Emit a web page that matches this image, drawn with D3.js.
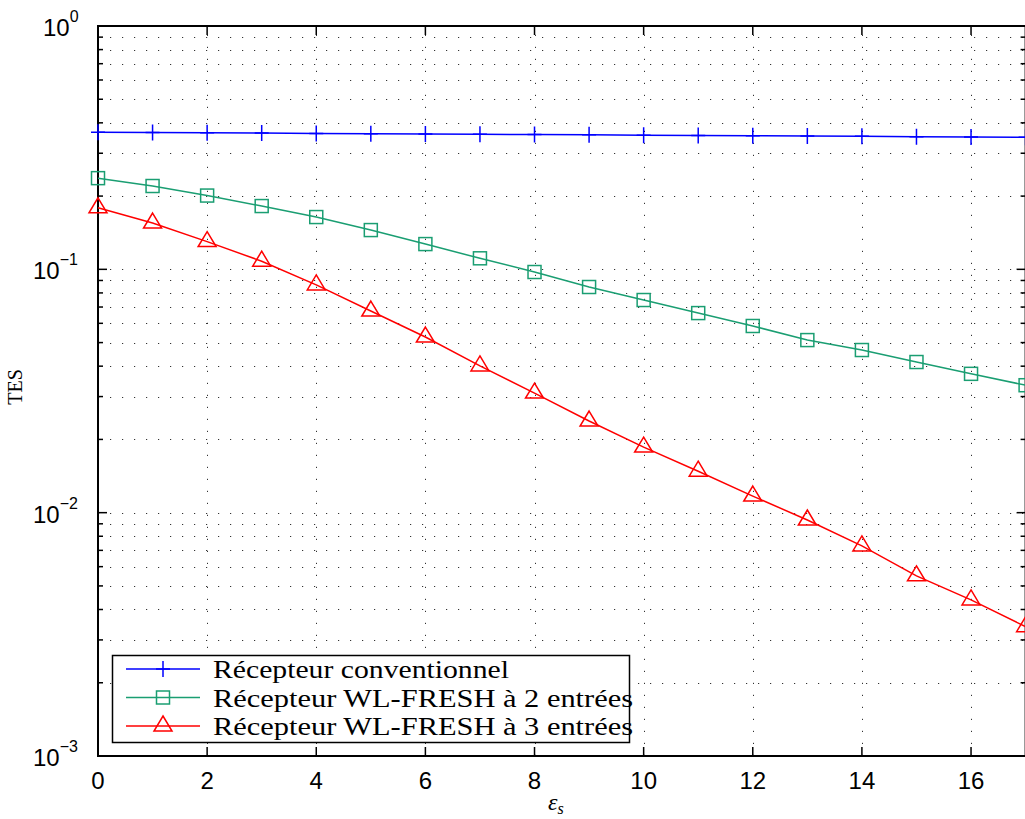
<!DOCTYPE html>
<html lang="en">
<head>
  <meta charset="UTF-8">
  <title>TES vs epsilon_s</title>
  <script src="https://d3js.org/d3.v7.min.js"></script>
  <style>
    body { margin: 0; padding: 0; background: #fff; }
    svg { display: block; }
  </style>
</head>
<body>
  <div id="chart"></div>
  <script>
    const width = 1025, height = 819;
    const margin = { top: 26, left: 98, bottom: 63 };
    const sansFont = "Liberation Sans, Arial, Helvetica, sans-serif";
    const serifFont = "Liberation Serif, Times New Roman, serif";

    // x values (epsilon_s)
    const eps = [0, 1, 2, 3, 4, 5, 6, 7, 8, 9, 10, 11, 12, 13, 14, 15, 16, 17];

    // TES values
    const conventionnel = [0.366, 0.365, 0.364, 0.363, 0.362, 0.361, 0.360, 0.359, 0.358, 0.357,
                           0.356, 0.355, 0.354, 0.353, 0.352, 0.351, 0.350, 0.349];
    const fresh2 = [0.237, 0.220, 0.201, 0.182, 0.164, 0.145, 0.127, 0.111, 0.0975, 0.0846,
                    0.0748, 0.0661, 0.0585, 0.0512, 0.0466, 0.0416, 0.0372, 0.0334];
    const fresh3 = [0.179, 0.155, 0.130, 0.108, 0.0863, 0.0674, 0.0527, 0.0401, 0.0310, 0.0238,
                    0.0186, 0.0148, 0.0117, 0.00933, 0.00730, 0.0055, 0.00438, 0.0034];

    const xTicks = [0, 2, 4, 6, 8, 10, 12, 14, 16];
    const yExps = [0, -1, -2, -3];
    const legendLabels = [
      "Récepteur conventionnel",
      "Récepteur WL-FRESH à 2 entrées",
      "Récepteur WL-FRESH à 3 entrées"
    ];
    const legendWidths = [296, 420, 420];

    const series = [
      { values: conventionnel, color: "#0000ff", marker: "plus" },
      { values: fresh2, color: "#1a9e72", marker: "square" },
      { values: fresh3, color: "#ff0000", marker: "triangle" }
    ];

    const x = d3.scaleLinear().domain([0, 17]).range([margin.left, 1025.6]);
    const y = d3.scaleLog().domain([1e-3, 1]).range([height - margin.bottom, margin.top]);

    const svg = d3.select("#chart").append("svg")
      .attr("width", width)
      .attr("height", height);

    const x0 = x.range()[0], x1 = x.range()[1];
    const y0 = y.range()[0], y1 = y.range()[1];

    // grid
    const grid = svg.append("g").attr("stroke", "#333").attr("stroke-width", 1)
      .attr("stroke-dasharray", "1.2,10.8");
    const minorVals = [];
    for (let e = -3; e < 0; e++) {
      for (let m = 1; m <= 9; m++) minorVals.push(m * Math.pow(10, e));
    }
    grid.selectAll("line.h").data(minorVals.filter(v => v > 1e-3)).join("line")
      .attr("class", "h")
      .attr("x1", x0).attr("x2", x1)
      .attr("y1", d => Math.round(y(d)) + 0.5).attr("y2", d => Math.round(y(d)) + 0.5);
    grid.selectAll("line.v").data(xTicks.filter(d => d > 0)).join("line")
      .attr("class", "v")
      .attr("x1", d => Math.round(x(d)) + 0.5).attr("x2", d => Math.round(x(d)) + 0.5)
      .attr("y1", y0).attr("y2", y1);

    // ticks (inward)
    const ticks = svg.append("g").attr("stroke", "#000").attr("stroke-width", 1.5);
    minorVals.concat([1]).forEach(v => {
      const isMajor = Math.abs(Math.log10(v) - Math.round(Math.log10(v))) < 1e-9;
      const len = isMajor ? 9 : 5;
      const yy = y(v);
      ticks.append("line").attr("x1", x0).attr("x2", x0 + len).attr("y1", yy).attr("y2", yy);
      ticks.append("line").attr("x1", x1).attr("x2", x1 - len).attr("y1", yy).attr("y2", yy);
    });
    xTicks.forEach(t => {
      ticks.append("line").attr("x1", x(t)).attr("x2", x(t)).attr("y1", y0).attr("y2", y0 - 9);
      ticks.append("line").attr("x1", x(t)).attr("x2", x(t)).attr("y1", y1).attr("y2", y1 + 9);
    });

    // box
    svg.append("rect")
      .attr("x", x0).attr("y", y1)
      .attr("width", x1 - x0).attr("height", y0 - y1)
      .attr("fill", "none").attr("stroke", "#000").attr("stroke-width", 2);

    // tick labels
    svg.selectAll("text.xt").data(xTicks).join("text")
      .attr("class", "xt")
      .attr("font-family", sansFont).attr("font-size", 24)
      .attr("x", d => x(d)).attr("y", y0 + 33)
      .attr("text-anchor", "middle")
      .text(d => d);

    const yl = svg.selectAll("text.yt").data(yExps).join("text")
      .attr("class", "yt")
      .attr("font-family", sansFont).attr("font-size", 24)
      .attr("x", d => d === 0 ? 43 : 33)
      .attr("y", d => y(Math.pow(10, d)) + 10);
    yl.append("tspan").text("10");
    yl.append("tspan").attr("dy", -14).attr("font-size", 16)
      .text(d => d === 0 ? "0" : "\u2212" + (-d));

    // axis labels
    svg.append("text")
      .attr("font-family", serifFont)
      .attr("transform", "translate(22,387) rotate(-90)")
      .attr("text-anchor", "middle")
      .attr("font-size", 20)
      .text("TES");
    const xl = svg.append("text")
      .attr("font-family", serifFont)
      .attr("x", 548).attr("y", 810)
      .attr("font-size", 24).attr("font-style", "italic");
    xl.append("tspan").text("\u03b5");
    xl.append("tspan").attr("font-size", 16).attr("dy", 4).text("s");

    function drawMarker(g, type, cx, cy, color) {
      if (type === "plus") {
        g.append("path").attr("d", `M${cx - 7},${cy}H${cx + 7}M${cx},${cy - 8}V${cy + 8}`)
          .attr("stroke", color).attr("stroke-width", 1.5).attr("fill", "none");
      } else if (type === "square") {
        g.append("rect").attr("x", cx - 6.5).attr("y", cy - 6.5).attr("width", 13).attr("height", 13)
          .attr("stroke", color).attr("stroke-width", 1.5).attr("fill", "none");
      } else {
        g.append("path").attr("d", `M${cx},${cy - 10}L${cx + 9},${cy + 5}L${cx - 9},${cy + 5}Z`)
          .attr("stroke", color).attr("stroke-width", 1.5).attr("fill", "none");
      }
    }

    const line = d3.line().x((d, i) => x(eps[i])).y(d => y(d));
    const plot = svg.append("g");
    series.forEach(s => {
      plot.append("path").datum(s.values)
        .attr("d", line)
        .attr("fill", "none").attr("stroke", s.color).attr("stroke-width", 1.5);
      const mg = plot.append("g");
      s.values.forEach((v, i) => drawMarker(mg, s.marker, x(eps[i]), y(v), s.color));
    });

    // legend
    const lg = svg.append("g");
    lg.append("rect").attr("x", 112.5).attr("y", 655.5).attr("width", 517).attr("height", 87)
      .attr("fill", "#fff").attr("stroke", "#000").attr("stroke-width", 1.5);
    series.forEach((s, i) => {
      const yy = 669 + i * 28.5;
      lg.append("line").attr("x1", 126).attr("x2", 200).attr("y1", yy).attr("y2", yy)
        .attr("stroke", s.color).attr("stroke-width", 1.5);
      drawMarker(lg, s.marker, 163, yy, s.color);
      lg.append("text")
        .attr("font-family", serifFont)
        .attr("x", 213).attr("y", yy + 9)
        .attr("font-size", 25)
        .attr("textLength", legendWidths[i])
        .attr("lengthAdjust", "spacingAndGlyphs")
        .text(legendLabels[i]);
    });
  </script>
</body>
</html>
